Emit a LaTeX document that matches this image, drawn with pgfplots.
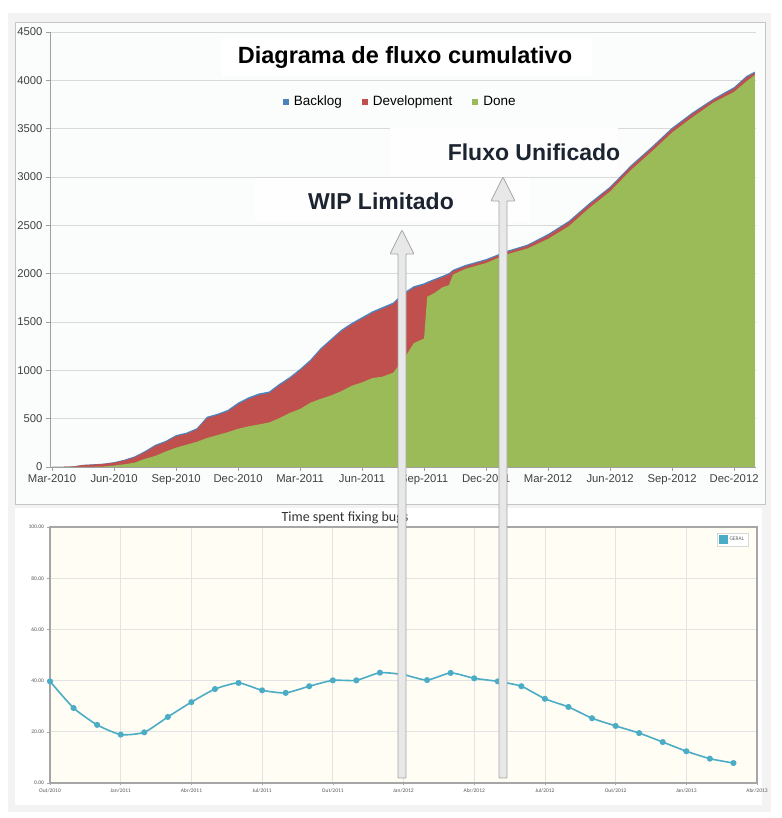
\documentclass[border=0pt]{standalone}
\usepackage{fontspec}
\setmainfont{Liberation Sans}
\newfontfamily\carlito{Carlito}
\usepackage{pgfplots}
\usepackage{pgfplotstable}
\pgfplotsset{compat=1.18}
\definecolor{cfdgreen}{HTML}{9BBB59}
\definecolor{cfdred}{HTML}{C0504D}
\definecolor{cfdblue}{HTML}{4F81BD}
\definecolor{navy}{HTML}{1B2430}
\definecolor{teal2}{HTML}{4BACC6}
\definecolor{cream}{HTML}{FFFDF4}
\definecolor{outerbg}{HTML}{F3F3F3}
\definecolor{panelbg}{HTML}{FBFDFD}
\definecolor{arrowfill}{HTML}{E8E8E8}
\definecolor{arrowline}{HTML}{A6A6A6}

\pgfplotstableread{
m done dev total
0 0 0 0
0.5 0 2 2
1 0 5 6
1.5 0 20 22
2 2 25 28
2.5 5 32 35
3 15 45 50
3.5 28 68 75
4 45 100 110
4.5 85 153 165
5 115 217 230
5.5 160 257 270
6 200 317 330
6.5 230 341 355
7 260 386 400
7.5 300 505 520
8 330 535 550
8.5 360 573 590
9 395 647 665
9.5 420 702 720
10 440 742 760
10.5 460 762 780
11 505 842 860
11.5 560 912 930
12 600 997 1015
12.5 665 1092 1110
13 705 1212 1230
13.5 740 1307 1325
14 785 1402 1420
14.5 840 1472 1490
15 875 1532 1550
15.5 920 1592 1610
16 935 1637 1655
16.5 975 1682 1700
17 1110 1782 1800
17.5 1280 1852 1870
18 1330 1883 1900
18.15 1760 1898 1915
18.5 1800 1930 1945
18.9 1860 1962 1978
19.2 1880 1990 2005
19.4 1990 2025 2040
20 2050 2075 2090
21 2110 2137 2150
22 2200 2222 2235
23 2260 2287 2300
24 2360 2395 2410
25 2490 2530 2545
26 2680 2715 2730
27 2850 2885 2900
28 3070 3105 3120
29 3260 3295 3310
30 3460 3495 3510
31 3620 3655 3670
32 3770 3797 3810
33 3880 3915 3930
33.6 3990 4030 4045
34 4055 4075 4090
}\cfd

\pgfplotstableread{
m val
0 39.7
1 29.3
2 22.7
3 18.9
4 19.8
5 25.8
6 31.6
7 36.7
8 39.1
9 36.2
10 35.2
11 37.8
12 40.1
13 40.1
14 43.1
15 42.3
16 40.2
17 43.0
18 40.9
19 39.7
20 37.8
21 32.9
22 29.7
23 25.3
24 22.3
25 19.5
26 16.0
27 12.4
28 9.5
29 7.8
}\bugs

\begin{document}
\begin{tikzpicture}
\path (0pt,0pt) rectangle (781pt,818pt);
% backgrounds
\fill[outerbg] (8pt,6pt) rectangle (771pt,805pt);
\filldraw[fill=panelbg, draw=gray!45, line width=0.8pt] (15pt,314pt) rectangle (765pt,796pt);
\fill[white] (15pt,13pt) rectangle (762pt,310pt);

% ---------- top chart ----------
\begin{axis}[
  at={(50pt,351pt)}, anchor=south west,
  scale only axis, width=706pt, height=435pt,
  xmin=-0.1, xmax=34.06, ymin=0, ymax=4500,
  axis lines*=left,
  axis line style={draw=gray!75, line width=0.8pt, -},
  xtick={0,3,...,33},
  xticklabels={Mar-2010,Jun-2010,Sep-2010,Dec-2010,Mar-2011,Jun-2011,Sep-2011,Dec-2011,Mar-2012,Jun-2012,Sep-2012,Dec-2012},
  ytick={0,500,...,4500},
  ymajorgrids, grid style={draw=gray!30, line width=0.8pt},
  tick align=outside, major tick length=4pt,
  tick style={draw=gray!75, line width=0.6pt},
  tick label style={font=\fontsize{11.3}{13}\selectfont, text=black!75},
  /pgf/number format/assume math mode=true,
  /pgf/number format/1000 sep={},
  legend style={at={(0.496,0.837)}, anchor=center, draw=none, fill=none,
     legend columns=3, font=\fontsize{13.5}{15}\selectfont,
     nodes={text height=1.5ex, text depth=0.45ex},
     /tikz/every even column/.append style={column sep=18pt}},
  legend image code/.code={\fill[#1] (0pt,-2.5pt) rectangle (6pt,3.5pt); \path (9pt,0pt);},
]
\addplot[fill=cfdblue, draw=none] table[x=m,y=total]{\cfd} \closedcycle;
\addlegendentry{Backlog}
\addplot[fill=cfdred, draw=none] table[x=m,y=dev]{\cfd} \closedcycle;
\addlegendentry{Development}
\addplot[fill=cfdgreen, draw=none] table[x=m,y=done]{\cfd} \closedcycle;
\addlegendentry{Done}
\end{axis}

% ---------- bottom chart ----------
\begin{axis}[
  at={(50pt,35pt)}, anchor=south west,
  scale only axis, width=707pt, height=256pt,
  xmin=0, xmax=30, ymin=0, ymax=100,
  axis background/.style={fill=cream},
  axis line style={draw=gray!70, line width=1.3pt},
  xtick={0,3,...,30},
  xticklabels={Out/2010,Jan/2011,Abr/2011,Jul/2011,Out/2011,Jan/2012,Abr/2012,Jul/2012,Out/2012,Jan/2013,Abr/2013},
  ytick={0,20,...,100},
  yticklabels={0.00,20.00,40.00,60.00,80.00,100.00},
  grid=major, grid style={draw=gray!22, line width=0.7pt},
  tick align=outside, major tick length=2.5pt,
  tick style={draw=gray!70, line width=0.5pt},
  xtick pos=bottom, ytick pos=left,
  tick label style={font=\carlito\fontsize{5.5}{6}\selectfont, text=black!65},
  /pgf/number format/assume math mode=true,
  legend style={at={(0.943,0.977)}, anchor=north west, draw=gray!30, fill=white,
     font=\carlito\fontsize{5.5}{6}\selectfont, text=black!60, inner sep=2pt},
  legend image code/.code={\fill[teal2] (0pt,-3pt) rectangle (7pt,4pt);},
]
\addplot[smooth, tension=0.35, color=teal2, line width=1.6pt, mark=*, mark size=2.2pt,
  mark options={fill=teal2, draw=teal2}] table[x=m,y=val]{\bugs};
\addlegendentry{GERAL}
\end{axis}
\node[font=\carlito\fontsize{14}{16}\selectfont, text=black!80] at (345pt,300pt) {Time spent fixing bugs};

% ---------- overlays ----------
\fill[white] (222pt,742pt) rectangle (592pt,780pt);
\node[font=\bfseries\fontsize{23.5}{26}\selectfont, text=black] at (405pt,761pt) {Diagrama de fluxo cumulativo};
\fill[white, opacity=0.95] (255pt,596pt) rectangle (530pt,640pt);
\node[font=\bfseries\fontsize{23}{26}\selectfont, text=navy] at (381pt,617pt) {WIP Limitado};
\fill[white, opacity=0.95] (390pt,642pt) rectangle (618pt,690pt);
\node[font=\bfseries\fontsize{23}{26}\selectfont, text=navy] at (534pt,666pt) {Fluxo Unificado};

% arrows
\filldraw[fill=arrowfill, draw=arrowline, line width=0.8pt, rounded corners=0.8pt]
  (398pt,40pt) -- (398pt,564pt) -- (390pt,564pt) -- (402pt,588pt) -- (414pt,564pt) -- (406pt,564pt) -- (406pt,40pt) -- cycle;
\filldraw[fill=arrowfill, draw=arrowline, line width=0.8pt, rounded corners=0.8pt]
  (499pt,40pt) -- (499pt,617pt) -- (491pt,617pt) -- (503pt,641pt) -- (515pt,617pt) -- (507pt,617pt) -- (507pt,40pt) -- cycle;
\end{tikzpicture}
\end{document}
